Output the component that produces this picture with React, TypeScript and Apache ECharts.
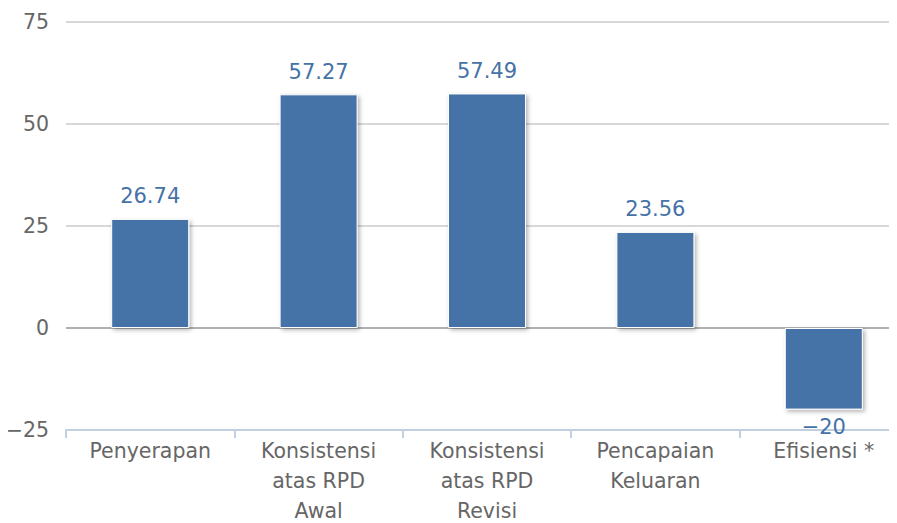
import React, { useEffect, useRef } from "react";
import * as echarts from "echarts";

const categories = [
  "Penyerapan",
  "Konsistensi\natas RPD\nAwal",
  "Konsistensi\natas RPD\nRevisi",
  "Pencapaian\nKeluaran",
  "Efisiensi *",
];
const values = [26.74, 57.27, 57.49, 23.56, -20];
const yMin = -25;
const yMax = 75;
const yInterval = 25;

const FONT = "'DejaVu Sans', Verdana, sans-serif";
const minus = (s: string) => s.replace("-", "\u2212");

export default function App() {
  const ref = useRef<HTMLDivElement>(null);
  useEffect(() => {
    if (!ref.current) return;
    const chart = echarts.init(ref.current, undefined, { renderer: "svg" });
    chart.setOption({
      animation: false,
      grid: {
        left: 66,
        top: 22,
        bottom: 93,
        right: -11,
        containLabel: false,
        outerBoundsMode: "none",
      },
      xAxis: {
        type: "category",
        data: categories,
        axisLine: { onZero: false, lineStyle: { color: "#c0d0e0", width: 2 } },
        axisTick: { show: true, length: 8, lineStyle: { color: "#c0d0e0", width: 2 } },
        axisLabel: {
          color: "#666666",
          fontFamily: FONT,
          fontSize: 20.5,
          lineHeight: 30,
          margin: 6,
          interval: 0,
        },
      },
      yAxis: {
        type: "value",
        min: yMin,
        max: yMax,
        interval: yInterval,
        axisLine: { show: false },
        axisTick: { show: false },
        axisLabel: {
          color: "#666666",
          fontFamily: FONT,
          fontSize: 20.5,
          margin: 17,
          formatter: (v: number) => minus(String(v)),
        },
        splitLine: {
          lineStyle: {
            color: ["rgba(0,0,0,0)", "#b0b0b0", "#d8d8d8", "#d8d8d8", "#d8d8d8"],
            width: 2,
          },
        },
      },
      series: [
        {
          type: "bar",
          data: values.map((v) =>
            v < 0
              ? { value: v, label: { position: "bottom", distance: 7 } }
              : { value: v }
          ),
          barWidth: 78,
          itemStyle: {
            color: "#4572A7",
            borderColor: "#ffffff",
            borderWidth: 1,
            shadowColor: "rgba(0,0,0,0.3)",
            shadowBlur: 4,
            shadowOffsetX: 2,
            shadowOffsetY: 2,
          },
          label: {
            show: true,
            position: "top",
            distance: 12,
            color: "#4572A7",
            fontFamily: FONT,
            fontSize: 21,
            formatter: (p: any) => minus(String(p.value)),
          },
        },
      ],
    });
    return () => chart.dispose();
  }, []);
  return <div ref={ref} style={{ width: 897, height: 523, marginLeft: -8, marginTop: -8 }} />;
}
